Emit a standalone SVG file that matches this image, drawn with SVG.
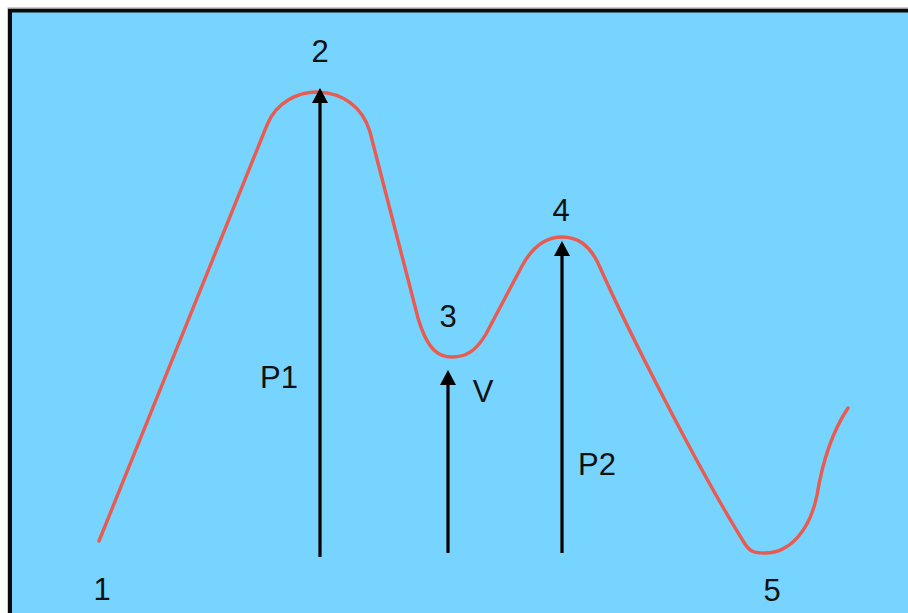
<svg xmlns="http://www.w3.org/2000/svg" width="908" height="613" viewBox="0 0 908 613">
<style>
.lbl{font-family:"Liberation Sans",Arial,sans-serif;font-size:31px;fill:#111;text-anchor:middle}
.curve{fill:none;stroke:#EA5A4F;stroke-width:3.4;stroke-linejoin:round;stroke-linecap:round}
.arr{stroke:#000;stroke-width:3.2;fill:none;marker-end:url(#ah)}
</style>
<defs>
<marker id="ah" markerUnits="userSpaceOnUse" viewBox="0 0 15 16" markerWidth="15" markerHeight="16" refX="3" refY="8" orient="auto">
<path d="M0,0 L15,8 L0,16 z" fill="#000"/>
</marker>
</defs>
<rect x="0" y="0" width="908" height="613" fill="#fff"/>
<rect x="7.5" y="7.5" width="901" height="606" fill="#999"/>
<rect x="8" y="9" width="900" height="604" fill="#0a0a0a"/>
<rect x="12" y="12.5" width="896" height="601" fill="#76D4FE"/>
<g id="curve">
<path class="curve" d="M99,541 L267,125 C285,80 355,80 370,132 L418,318 C428,352 440,357 452,357 C466,357 476,351 486,334 L522,266 C535,242 550,237 562,237 C578,237 589,245 598,263 C630,335 700,472 745,544 C750,552 755,553 765,553 C790,553 810,530 817,495 C822,465 830,435 848,408"/>
</g>
<g id="connectors">
<line class="arr" x1="320" y1="557" x2="320" y2="100"/>
<line class="arr" x1="448" y1="553" x2="448" y2="382"/>
<line class="arr" x1="562" y1="553" x2="562" y2="253"/>
</g>
<g id="n1"><text class="lbl" x="102" y="600">1</text></g>
<g id="n2"><text class="lbl" x="320" y="62">2</text></g>
<g id="n3"><text class="lbl" x="448" y="327">3</text></g>
<g id="n4"><text class="lbl" x="561" y="221">4</text></g>
<g id="n5"><text class="lbl" x="772" y="601">5</text></g>
<g id="lP1"><text class="lbl" x="279" y="388">P1</text></g>
<g id="lV"><text class="lbl" x="483" y="402">V</text></g>
<g id="lP2"><text class="lbl" x="597" y="475">P2</text></g>
</svg>
